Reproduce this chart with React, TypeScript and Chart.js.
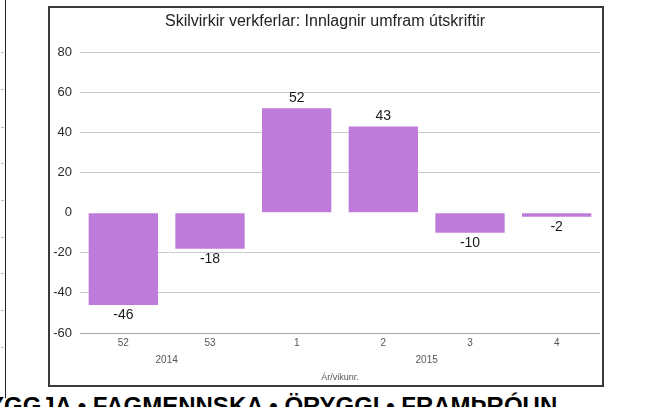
import React, { useEffect, useRef } from "react";
import { Chart, registerables } from "chart.js";

Chart.register(...registerables);

const CHART_TITLE = "Skilvirkir verkferlar: Innlagnir umfram útskriftir";
const X_AXIS_TITLE = "Ár/vikunr.";
const weekLabels = ["52", "53", "1", "2", "3", "4"];
const weekYears = ["2014", "2014", "2015", "2015", "2015", "2015"];
const netAdmissions = [-46, -18, 52, 43, -10, -2];
const Y_MIN = -60;
const Y_MAX = 80;
const Y_STEP = 20;
const FOOTER_TEXT = "YGGJA • FAGMENNSKA • ÖRYGGI • FRAMÞRÓUN";

const FONT = "'Liberation Sans', Arial, sans-serif";
const BAR_COLOR = "#BF7BDB";

const extrasPlugin = {
  id: "extras",
  afterDatasetsDraw(chart: any) {
    const ctx = chart.ctx;
    const meta = chart.getDatasetMeta(0);
    const data = chart.data.datasets[0].data as number[];
    ctx.save();
    ctx.font = `14px ${FONT}`;
    ctx.fillStyle = "#1a1a1a";
    ctx.textAlign = "center";
    ctx.textBaseline = "middle";
    meta.data.forEach((el: any, i: number) => {
      const v = data[i];
      const y = v >= 0 ? el.y - 10 : el.y + 10.5;
      ctx.fillText(String(v), el.x, y);
    });
    ctx.restore();
  },
  afterDraw(chart: any) {
    const ctx = chart.ctx;
    const xs = chart.scales.x;
    const area = chart.chartArea;
    ctx.save();
    ctx.fillStyle = "#555";
    ctx.textAlign = "center";
    ctx.textBaseline = "middle";
    ctx.font = `10px ${FONT}`;
    let start = 0;
    for (let i = 1; i <= weekYears.length; i++) {
      if (i === weekYears.length || weekYears[i] !== weekYears[start]) {
        const x0 = xs.getPixelForValue(start);
        const x1 = xs.getPixelForValue(i - 1);
        ctx.fillText(weekYears[start], (x0 + x1) / 2, area.bottom + 27);
        start = i;
      }
    }
    ctx.font = `9px ${FONT}`;
    ctx.fillText(X_AXIS_TITLE, (area.left + area.right) / 2, area.bottom + 45);
    ctx.restore();
  },
};

function BarChart() {
  const ref = useRef<HTMLCanvasElement | null>(null);
  useEffect(() => {
    if (!ref.current) return;
    const chart = new Chart(ref.current, {
      type: "bar",
      data: {
        labels: weekLabels,
        datasets: [
          {
            data: netAdmissions,
            backgroundColor: BAR_COLOR,
            borderWidth: 0,
            barPercentage: 0.8,
            categoryPercentage: 1,
          },
        ],
      },
      options: {
        responsive: false,
        animation: false,
        layout: { padding: { left: 0, right: 2, top: 0, bottom: 0 } },
        plugins: {
          legend: { display: false },
          tooltip: { enabled: false },
          title: {
            display: true,
            text: CHART_TITLE,
            color: "#222",
            font: { family: FONT, size: 16, weight: "normal" },
            padding: { top: 4, bottom: 21 },
          },
        },
        scales: {
          x: {
            grid: { display: false, drawTicks: false },
            border: { display: false },
            ticks: {
              color: "#555",
              font: { family: FONT, size: 10 },
              padding: 4,
              maxRotation: 0,
            },
            afterFit: (s: any) => {
              s.height = 52;
            },
          },
          y: {
            min: Y_MIN,
            max: Y_MAX,
            ticks: {
              stepSize: Y_STEP,
              color: "#2a2a2a",
              font: { family: FONT, size: 13 },
              padding: 8,
            },
            grid: {
              drawTicks: false,
              color: (c: any) =>
                c.tick && c.tick.value === 0
                  ? "rgba(0,0,0,0)"
                  : c.tick && c.tick.value === Y_MIN
                  ? "#a8a8a8"
                  : "#cccccc",
            },
            border: { display: false },
            afterFit: (s: any) => {
              s.width = 30;
            },
          },
        },
      },
      plugins: [extrasPlugin],
    } as any);
    return () => chart.destroy();
  }, []);
  return <canvas ref={ref} width={552} height={377} style={{ display: "block", width: 552, height: 377 }} />;
}

const sideTicks = [52, 89, 127, 163, 200, 237, 273, 310, 347];

export default function App() {
  return (
    <div
      style={{
        position: "fixed",
        left: 0,
        top: 0,
        width: 645,
        height: 407,
        overflow: "hidden",
        background: "#fff",
      }}
    >
      <div style={{ position: "absolute", left: 5, top: 0, width: 1, height: 398, background: "#222" }} />
      {sideTicks.map((y) => (
        <div key={y} style={{ position: "absolute", left: 1, top: y, width: 3, height: 1, background: "#bbb" }} />
      ))}
      <div
        style={{
          position: "absolute",
          left: 48,
          top: 6,
          width: 552,
          height: 377,
          border: "2px solid #3a3a3a",
          background: "#fff",
        }}
      >
        <BarChart />
      </div>
      <div
        style={{
          position: "absolute",
          left: -12,
          top: 394,
          fontFamily: FONT,
          fontWeight: "bold",
          fontSize: 24,
          lineHeight: "24px",
          whiteSpace: "nowrap",
          color: "#000",
        }}
      >
        {FOOTER_TEXT}
      </div>
    </div>
  );
}
